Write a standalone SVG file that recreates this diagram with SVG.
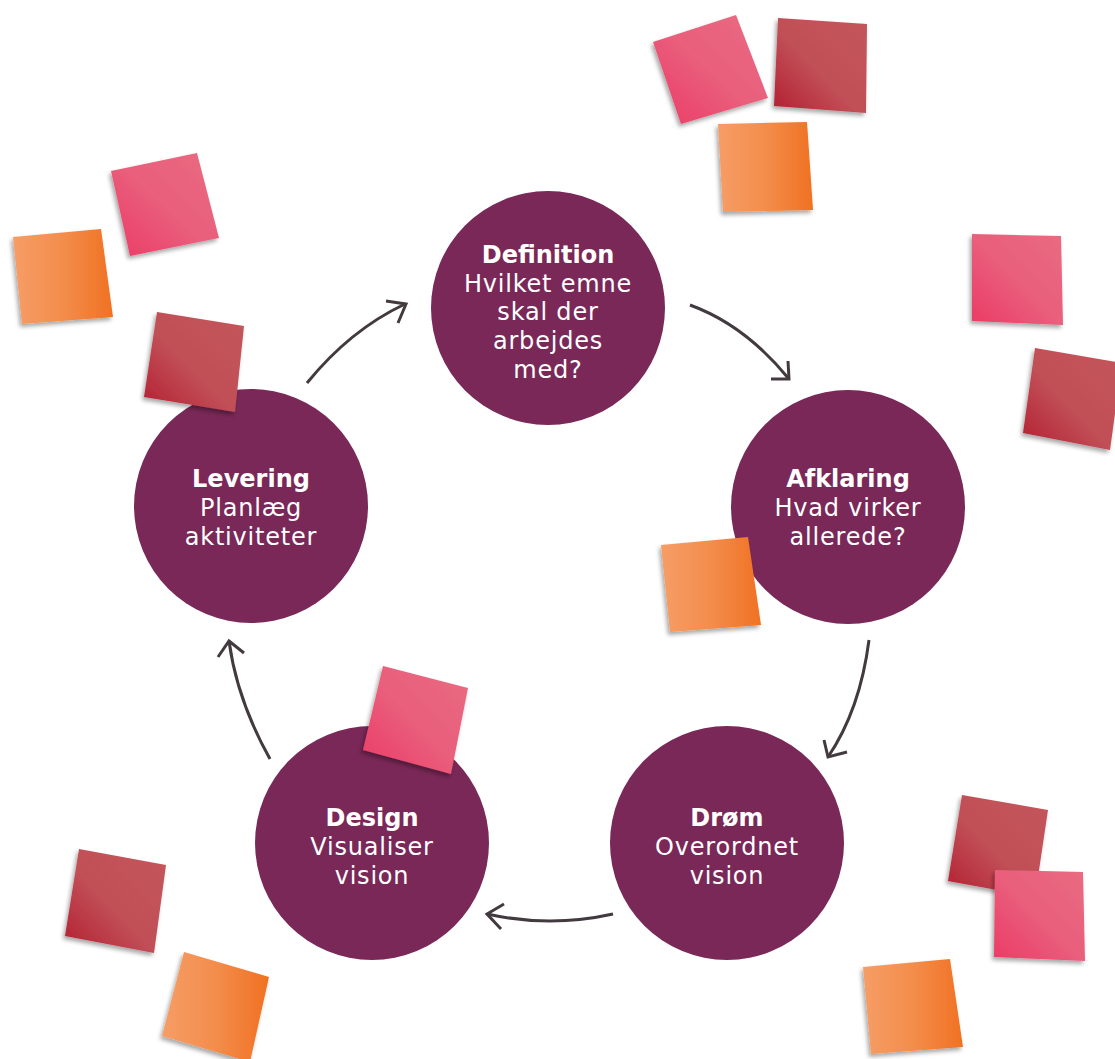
<svg xmlns="http://www.w3.org/2000/svg" width="1115" height="1059" viewBox="0 0 1115 1059">
<style>
.node{fill:#7a2857}
.t{font-family:"DejaVu Sans","Liberation Sans",sans-serif;font-size:24px;fill:#ffffff;text-anchor:middle;letter-spacing:0.8px}
.b{font-weight:700;letter-spacing:0}
.arr{fill:none;stroke:#433a40;stroke-width:3;stroke-linecap:butt}
.sp{fill:url(#gPink);filter:url(#sh)}
.sr{fill:url(#gRed);filter:url(#sh)}
.so{fill:url(#gOr);filter:url(#sh)}
</style>
<defs>
<linearGradient id="gPink" x1="1" y1="0" x2="0" y2="1">
<stop offset="0" stop-color="#e96b82"/><stop offset="0.5" stop-color="#e95f7c"/><stop offset="1" stop-color="#ec3b66"/>
</linearGradient>
<linearGradient id="gRed" x1="1" y1="0" x2="0" y2="1">
<stop offset="0" stop-color="#c3555b"/><stop offset="0.55" stop-color="#c14f57"/><stop offset="1" stop-color="#b31e31"/>
</linearGradient>
<linearGradient id="gOr" x1="0" y1="0" x2="1" y2="0">
<stop offset="0" stop-color="#f69d66"/><stop offset="0.5" stop-color="#f38d4c"/><stop offset="1" stop-color="#f07122"/>
</linearGradient>
<filter id="sh" x="-20%" y="-20%" width="140%" height="140%">
<feDropShadow dx="-2" dy="3" stdDeviation="2" flood-color="#000" flood-opacity="0.35"/>
</filter>
</defs>

<g id="node-definition">
<circle class="node" cx="548" cy="308" r="117"/>
<text class="t b" x="548" y="263">Definition</text>
<text class="t" x="548" y="292">Hvilket emne</text>
<text class="t" x="548" y="320">skal der</text>
<text class="t" x="548" y="349">arbejdes</text>
<text class="t" x="548" y="378">med?</text>
</g>
<g id="node-afklaring">
<circle class="node" cx="848" cy="507" r="117"/>
<text class="t b" x="848" y="487">Afklaring</text>
<text class="t" x="848" y="516">Hvad virker</text>
<text class="t" x="848" y="545">allerede?</text>
</g>
<g id="node-droem">
<circle class="node" cx="727" cy="843" r="117"/>
<text class="t b" x="727" y="826">Drøm</text>
<text class="t" x="727" y="855">Overordnet</text>
<text class="t" x="727" y="884">vision</text>
</g>
<g id="node-design">
<circle class="node" cx="372" cy="843" r="117"/>
<text class="t b" x="372" y="826">Design</text>
<text class="t" x="372" y="855">Visualiser</text>
<text class="t" x="372" y="884">vision</text>
</g>
<g id="node-levering">
<circle class="node" cx="251" cy="506" r="117"/>
<text class="t b" x="251" y="487">Levering</text>
<text class="t" x="251" y="516">Planlæg</text>
<text class="t" x="251" y="545">aktiviteter</text>
</g>

<g id="connectors">
<path class="arr" d="M307,383 Q350,330 405,304"/>
<path class="arr" d="M386,301 L406,304 L398,323"/>
<path class="arr" d="M690,305 Q745,325 789,379"/>
<path class="arr" d="M771,379 L789,379 L788,361"/>
<path class="arr" d="M869,640 Q860,710 828,757"/>
<path class="arr" d="M847,752 L828,757 L824,740"/>
<path class="arr" d="M613,914 Q550,928 487,914"/>
<path class="arr" d="M504,904 L487,914 L501,929"/>
<path class="arr" d="M270,759 Q237,700 229,641"/>
<path class="arr" d="M218,657 L229,641 L244,653"/>
</g>

<g id="stickies">
<polygon class="sp" points="653,42 736,15 768,98 681,124"/>
<polygon class="sr" points="778,18 867,24 866,113 774,106"/>
<polygon class="so" points="718,124 807,122 813,210 723,212"/>
<polygon class="sp" points="111,171 197,153 219,238 130,256"/>
<polygon class="so" points="13,237 101,229 113,317 22,324"/>
<polygon class="sr" points="157,312 244,326 235,412 144,397"/>
<polygon class="sp" points="972,234 1061,236 1063,325 972,321"/>
<polygon class="sr" points="1035,348 1122,363 1110,450 1023,433"/>
<polygon class="so" points="661,545 748,537 761,625 670,632"/>
<polygon class="sp" points="383,666 468,688 451,774 363,750"/>
<polygon class="sr" points="962,795 1048,810 1035,897 948,881"/>
<polygon class="sp" points="995,870 1083,872 1085,961 994,957"/>
<polygon class="so" points="863,967 950,959 963,1047 871,1054"/>
<polygon class="sr" points="79,849 166,865 154,953 65,936"/>
<polygon class="so" points="184,952 269,977 250,1062 162,1036"/>
</g>
</svg>
